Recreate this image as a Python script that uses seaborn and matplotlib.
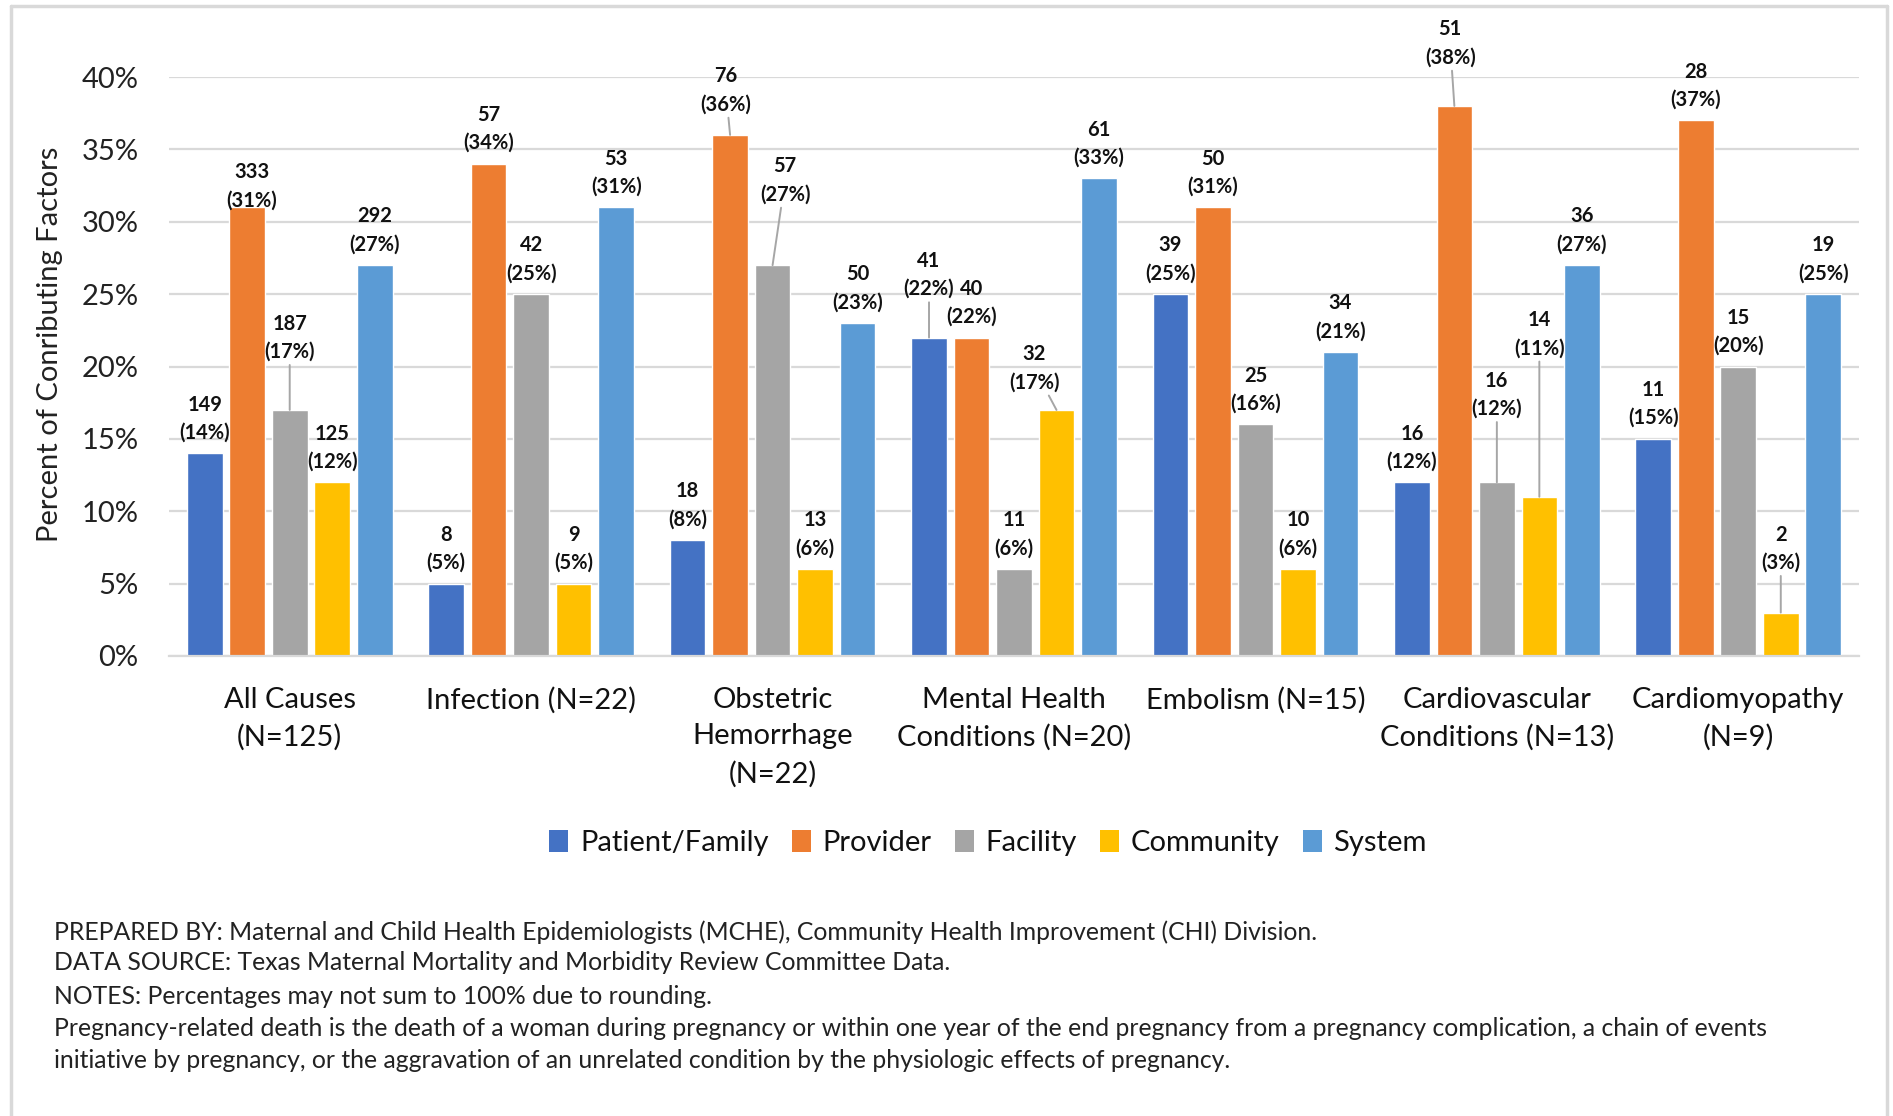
import matplotlib
matplotlib.use("Agg")
import matplotlib.pyplot as plt
import matplotlib.ticker as mticker
from matplotlib.lines import Line2D
from matplotlib.patches import Patch
import seaborn as sns
import pandas as pd

# ---------------- data ----------------
causes = ["All Causes\n(N=125)", "Infection (N=22)", "Obstetric\nHemorrhage\n(N=22)",
          "Mental Health\nConditions (N=20)", "Embolism (N=15)",
          "Cardiovascular\nConditions (N=13)", "Cardiomyopathy\n(N=9)"]
factors = ["Patient/Family", "Provider", "Facility", "Community", "System"]

patient_family_n = [149, 8, 18, 41, 39, 16, 11]
patient_family_pct = [14, 5, 8, 22, 25, 12, 15]
provider_n = [333, 57, 76, 40, 50, 51, 28]
provider_pct = [31, 34, 36, 22, 31, 38, 37]
facility_n = [187, 42, 57, 11, 25, 16, 15]
facility_pct = [17, 25, 27, 6, 16, 12, 20]
community_n = [125, 9, 13, 32, 10, 14, 2]
community_pct = [12, 5, 6, 17, 6, 11, 3]
system_n = [292, 53, 50, 61, 34, 36, 19]
system_pct = [27, 31, 23, 33, 21, 27, 25]

y_ticks = [0, 5, 10, 15, 20, 25, 30, 35, 40]

footnotes = [
    "PREPARED BY: Maternal and Child Health Epidemiologists (MCHE), Community Health Improvement (CHI) Division.",
    "DATA SOURCE: Texas Maternal Mortality and Morbidity Review Committee Data.",
    "NOTES: Percentages may not sum to 100% due to rounding.",
    "Pregnancy-related death is the death of a woman during pregnancy or within one year of the end pregnancy from a pregnancy complication, a chain of events",
    "initiative by pregnancy, or the aggravation of an unrelated condition by the physiologic effects of pregnancy.",
]

counts = [patient_family_n, provider_n, facility_n, community_n, system_n]
pcts = [patient_family_pct, provider_pct, facility_pct, community_pct, system_pct]

rows = []
for f, nl, pl in zip(factors, counts, pcts):
    for c, n, p in zip(causes, nl, pl):
        rows.append({"cause": c, "factor": f, "n": n, "pct": p / 100.0})
df = pd.DataFrame(rows)

# ---------------- style ----------------
colors = ["#4472C4", "#ED7D31", "#A5A5A5", "#FFC000", "#5B9BD5"]
grid_c = "#D9D9D9"
FONT = ["Lato", "DejaVu Sans"]

sns.set_theme(style="white")
plt.rcParams["font.family"] = FONT

W, H = 1893, 1116
fig = plt.figure(figsize=(W / 100, H / 100), dpi=100)
ax = fig.add_axes([169 / W, 1 - 656 / H, (1859 - 169) / W, (656 - 77) / H])

sns.barplot(data=df, x="cause", y="pct", hue="factor", hue_order=factors,
            palette=colors, width=0.88, gap=0.16, ax=ax, legend=False,
            errorbar=None, saturation=1)

ax.set_ylim(0, 0.40)
ax.set_xlim(-0.5, len(causes) - 0.5)
ax.set_yticks([t / 100 for t in y_ticks])
ax.yaxis.set_major_formatter(mticker.FuncFormatter(lambda v, _: f"{v*100:.0f}%"))
ax.grid(axis="y", color=grid_c, linewidth=1.6)
ax.set_axisbelow(True)
for s in ["left", "right", "top"]:
    ax.spines[s].set_visible(False)
ax.spines["bottom"].set_color(grid_c)
ax.spines["bottom"].set_linewidth(1.6)
ax.tick_params(axis="y", length=0, pad=22, labelsize=21, labelcolor="#222222")
ax.tick_params(axis="x", length=0, pad=22, labelsize=21, labelcolor="#111111")
for lab in ax.get_xticklabels():
    lab.set_linespacing(1.52)
    lab.set_verticalalignment("top")
ax.set_xlabel("")
ax.set_ylabel("Percent of Conributing Factors", fontsize=21, color="#222222")
ax.yaxis.set_label_coords(-(169 - 63) / (1859 - 169), (656 - 344) / (656 - 77))

# ---------------- data labels ----------------
default_off = (0, 25)
# (category index, factor index) -> (dx pt, dy pt, leader line)
special = {
    (0, 1): (3.5, 15, False),
    (0, 2): (0, 52, True),
    (2, 1): (-3, 32, True),
    (2, 2): (9, 61, True),
    (3, 0): (0, 45, True),
    (3, 3): (-16, 30, True),
    (5, 1): (-3, 45, True),
    (5, 2): (0, 63, True),
    (5, 3): (0, 117, True),
    (6, 3): (0, 46, True),
}
for j, cont in enumerate(ax.containers):
    for i, bar in enumerate(cont):
        x = bar.get_x() + bar.get_width() / 2
        y = bar.get_height()
        dx, dy, lead = special.get((i, j), (default_off[0], default_off[1], False))
        txt = f"{counts[j][i]}\n({pcts[j][i]}%)"
        kw = {}
        if lead:
            kw["arrowprops"] = dict(arrowstyle="-", color="#A6A6A6", lw=1.4,
                                    shrinkA=0, shrinkB=0)
        ax.annotate(txt, xy=(x, y), xytext=(dx, dy), textcoords="offset points",
                    ha="center", va="center", fontsize=14.5, fontweight="bold",
                    color="#111111", linespacing=1.5, **kw)

# ---------------- legend ----------------
handles = [Patch(facecolor=c, edgecolor="none") for c in colors]
fig.legend(handles, factors, loc="center", bbox_to_anchor=(988 / W, 1 - 843 / H),
           ncol=5, frameon=False, fontsize=21, handlelength=0.65, handleheight=0.8,
           handletextpad=0.4, columnspacing=0.8, labelcolor="#111111")

# ---------------- footnotes ----------------
ys = [932, 963, 996, 1029, 1061]
for t, yy in zip(footnotes, ys):
    fig.text(54 / W, 1 - yy / H, t, fontsize=17.8, color="#222222", ha="left", va="center")

# ---------------- chart frame ----------------
fr = dict(color=grid_c, linewidth=2.5, transform=fig.transFigure)
fig.add_artist(Line2D([11 / W, 1887 / W], [1 - 6 / H, 1 - 6 / H], **fr))
fig.add_artist(Line2D([11 / W, 11 / W], [0, 1 - 6 / H], **fr))
fig.add_artist(Line2D([1887 / W, 1887 / W], [0, 1 - 6 / H], **fr))

fig.savefig("out.png", dpi=100)
